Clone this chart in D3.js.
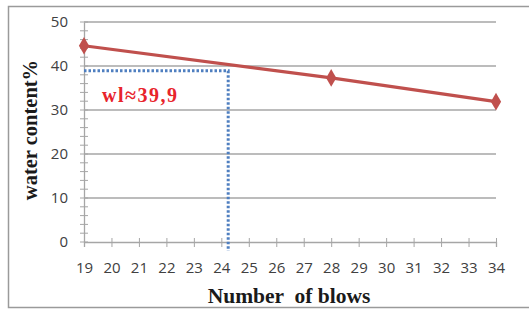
<!DOCTYPE html>
<html>
<head>
<meta charset="utf-8">
<script src="https://cdn.jsdelivr.net/npm/d3@7"></script>
<style>
  body { margin: 0; background: #fff; }
</style>
</head>
<body>
<script>

// data //
const blows = [19, 28, 34];
const waterContent = [44.6, 37.3, 31.9];
const xTicks = d3.range(19, 35);
const yTicks = [0, 10, 20, 30, 40, 50];
const yMinorTicks = d3.range(0, 51, 2);
const liquidLimit = { blows: 24.25, wl: 38.9, label: "wl\u224839,9" };

const W = 529, H = 309;
const margin = { top: 22, right: 33, bottom: 67, left: 84 };

const svg = d3.select('body').append('svg')
  .attr('width', W)
  .attr('height', H);

// frame //
svg.append('path')
  .attr('d', 'M529,6.5H8.5V307.5H529')
  .attr('fill', 'none')
  .attr('stroke', '#9a9a9a')
  .attr('stroke-width', 1.5);

const x = d3.scaleLinear().domain([19, 34]).range([margin.left, W - margin.right]);
const y = d3.scaleLinear().domain([0, 50]).range([H - margin.bottom, margin.top]);

// gridlines //
svg.append('g')
  .selectAll('line')
  .data(yTicks.filter(d => d > 0))
  .join('line')
  .attr('x1', x(19)).attr('x2', x(34))
  .attr('y1', d => y(d)).attr('y2', d => y(d))
  .attr('stroke', '#a6a6a6')
  .attr('stroke-width', 1.3);

// y axis //
const yAxis = svg.append('g')
  .attr('transform', 'translate(' + x(19) + ',0)')
  .call(d3.axisLeft(y).tickValues(yTicks).tickSize(0).tickPadding(16).tickFormat(d3.format('d')));
yAxis.select('.domain').attr('stroke', '#a6a6a6').attr('stroke-width', 1.3);
yAxis.selectAll('text')
  .attr('font-family', "'Open Sans', sans-serif")
  .attr('font-size', 15)
  .attr('fill', '#404040');

svg.append('g')
  .selectAll('line')
  .data(yMinorTicks)
  .join('line')
  .attr('x1', x(19) - 4).attr('x2', x(19) + 4)
  .attr('y1', d => y(d)).attr('y2', d => y(d))
  .attr('stroke', '#a6a6a6')
  .attr('stroke-width', 1);

// x axis //
const xAxis = svg.append('g')
  .attr('transform', 'translate(0,' + y(0) + ')')
  .call(d3.axisBottom(x).tickValues(xTicks).tickSize(5).tickPadding(15).tickFormat(d3.format('d')));
xAxis.select('.domain').attr('stroke', '#a6a6a6').attr('stroke-width', 1.3);
xAxis.selectAll('.tick line').attr('stroke', '#a6a6a6').attr('y1', -4);
xAxis.selectAll('text')
  .attr('font-family', "'Open Sans', sans-serif")
  .attr('font-size', 15)
  .attr('fill', '#404040');

// liquid limit reference lines //
svg.append('path')
  .attr('d', 'M' + x(19) + ',' + y(liquidLimit.wl) +
             'H' + x(liquidLimit.blows) +
             'V' + (y(0) + 9))
  .attr('fill', 'none')
  .attr('stroke', '#4f7fc0')
  .attr('stroke-width', 3)
  .attr('stroke-dasharray', '2.5,2');

// data line //
const pts = blows.map((b, i) => ({ b: b, w: waterContent[i] }));
const line = d3.line().x(d => x(d.b)).y(d => y(d.w));

svg.append('path')
  .datum(pts)
  .attr('fill', 'none')
  .attr('stroke', '#c0504d')
  .attr('stroke-width', 3.2)
  .attr('d', line);

svg.append('g')
  .selectAll('path')
  .data(pts)
  .join('path')
  .attr('transform', d => 'translate(' + x(d.b) + ',' + y(d.w) + ')')
  .attr('d', d3.symbol(d3.symbolDiamond, 90)())
  .attr('fill', '#c0504d');

// annotation //
svg.append('text')
  .attr('x', x(19) + 18)
  .attr('y', y(30) - 8)
  .attr('font-family', "'Liberation Serif', serif")
  .attr('font-weight', 'bold')
  .attr('font-size', 20)
  .attr('textLength', 75)
  .attr('fill', '#e8242b')
  .text(liquidLimit.label);

// axis titles //
svg.append('text')
  .attr('x', 289)
  .attr('y', 303)
  .attr('text-anchor', 'middle')
  .attr('font-family', "'Liberation Serif', serif")
  .attr('font-weight', 'bold')
  .attr('font-size', 21.5)
  .attr('fill', '#1a1a1a')
  .attr('xml:space', 'preserve')
  .text("Number  of blows");

svg.append('text')
  .attr('transform', 'translate(37,' + 130 + ') rotate(-90)')
  .attr('text-anchor', 'middle')
  .attr('font-family', "'Liberation Serif', serif")
  .attr('font-weight', 'bold')
  .attr('font-size', 20.5)
  .attr('fill', '#1a1a1a')
  .text("water content%");

</script>
</body>
</html>
